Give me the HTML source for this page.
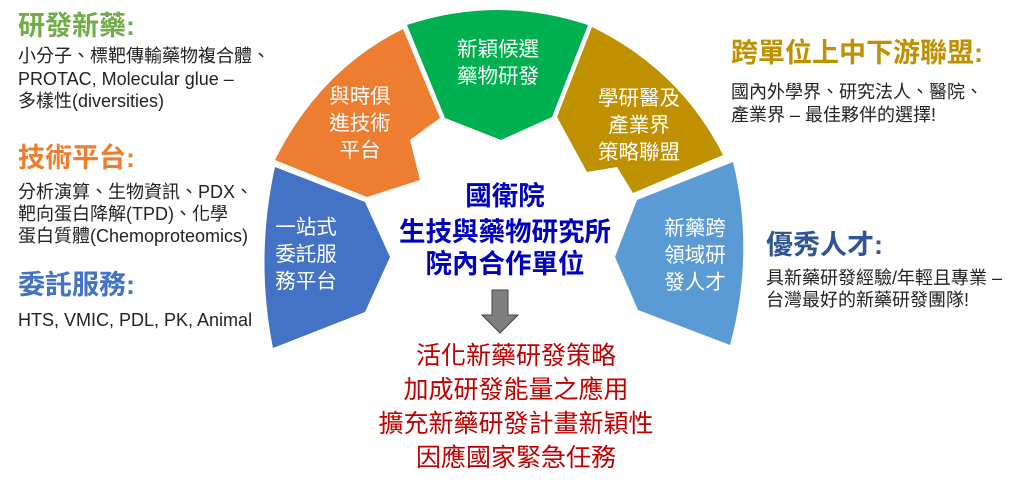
<!DOCTYPE html>
<html><head><meta charset="utf-8"><style>
html,body{margin:0;padding:0;background:#fff;}
svg{display:block;font-family:"Liberation Sans","Noto Sans CJK TC",sans-serif;}
</style></head><body>
<svg width="1024" height="493" viewBox="0 0 1024 493" xmlns="http://www.w3.org/2000/svg">
<path d="M275,167 Q255,258 273,348 L365,312 L390,257 L365,202 Z" fill="#4472c4"/>
<path d="M275,160 Q320,70 403,29 L440,118 L410,140 L420,180 L367,197 Z" fill="#ed7d31"/>
<path d="M407,25 Q498,-5 588,25 L552,117 L501,140 L445,118 Z" fill="#00b050"/>
<path d="M592,27 Q680,70 723,155 L633,193 L617,167 L587,172 L557,117 Z" fill="#bf9000"/>
<path d="M637,200 L733,162 Q755,253 730,345 L638,310 L615,257 Z" fill="#5b9bd5"/>
<path d="M492,290 L508,290 L508,315 L518,315 L500,333 L482,315 L492,315 Z" fill="#7f7f7f" stroke="#404040" stroke-width="1"/>

<g fill="#fff" font-size="20.5" text-anchor="middle">
<text x="360" y="103">與時俱</text><text x="360" y="130">進技術</text><text x="360" y="157">平台</text>
<text x="498" y="56">新穎候選</text><text x="498" y="83">藥物研發</text>
<text x="639" y="105">學研醫及</text><text x="639" y="132">產業界</text><text x="639" y="159">策略聯盟</text>
<text x="306" y="234">一站式</text><text x="306" y="261">委託服</text><text x="306" y="288">務平台</text>
<text x="695" y="235">新藥跨</text><text x="695" y="262">領域研</text><text x="695" y="289">發人才</text>
</g>
<g fill="#0000c0" font-size="26.5" font-weight="bold" text-anchor="middle">
<text x="505" y="205">國衛院</text><text x="505" y="241">生技與藥物研究所</text><text x="505" y="273">院內合作單位</text>
</g>
<g fill="#c00000" font-size="25" text-anchor="middle">
<text x="516" y="364">活化新藥研發策略</text><text x="516" y="398">加成研發能量之應用</text><text x="516" y="432">擴充新藥研發計畫新穎性</text><text x="516" y="466">因應國家緊急任務</text>
</g>
<g font-size="27" font-weight="bold">
<text x="18" y="35" fill="#70ad47">研發新藥:</text>
<text x="18" y="167" fill="#ed7d31">技術平台:</text>
<text x="18" y="294" fill="#4472c4">委託服務:</text>
<text x="731" y="62" fill="#bf9000">跨單位上中下游聯盟:</text>
<text x="766" y="254" fill="#2f5597">優秀人才:</text>
</g>
<g font-size="18" fill="#222">
<text x="18" y="62">小分子、標靶傳輸藥物複合體、</text>
<text x="18" y="85">PROTAC, Molecular glue –</text>
<text x="18" y="107">多樣性(diversities)</text>
<text x="18" y="198">分析演算、生物資訊、PDX、</text>
<text x="18" y="220">靶向蛋白降解(TPD)、化學</text>
<text x="18" y="242">蛋白質體(Chemoproteomics)</text>
<text x="18" y="326">HTS, VMIC, PDL, PK, Animal</text>
<text x="731" y="98">國內外學界、研究法人、醫院、</text>
<text x="731" y="121">產業界 – 最佳夥伴的選擇!</text>
<text x="766" y="284">具新藥研發經驗/年輕且專業 –</text>
<text x="766" y="306">台灣最好的新藥研發團隊!</text>
</g>
</svg>
</body></html>
